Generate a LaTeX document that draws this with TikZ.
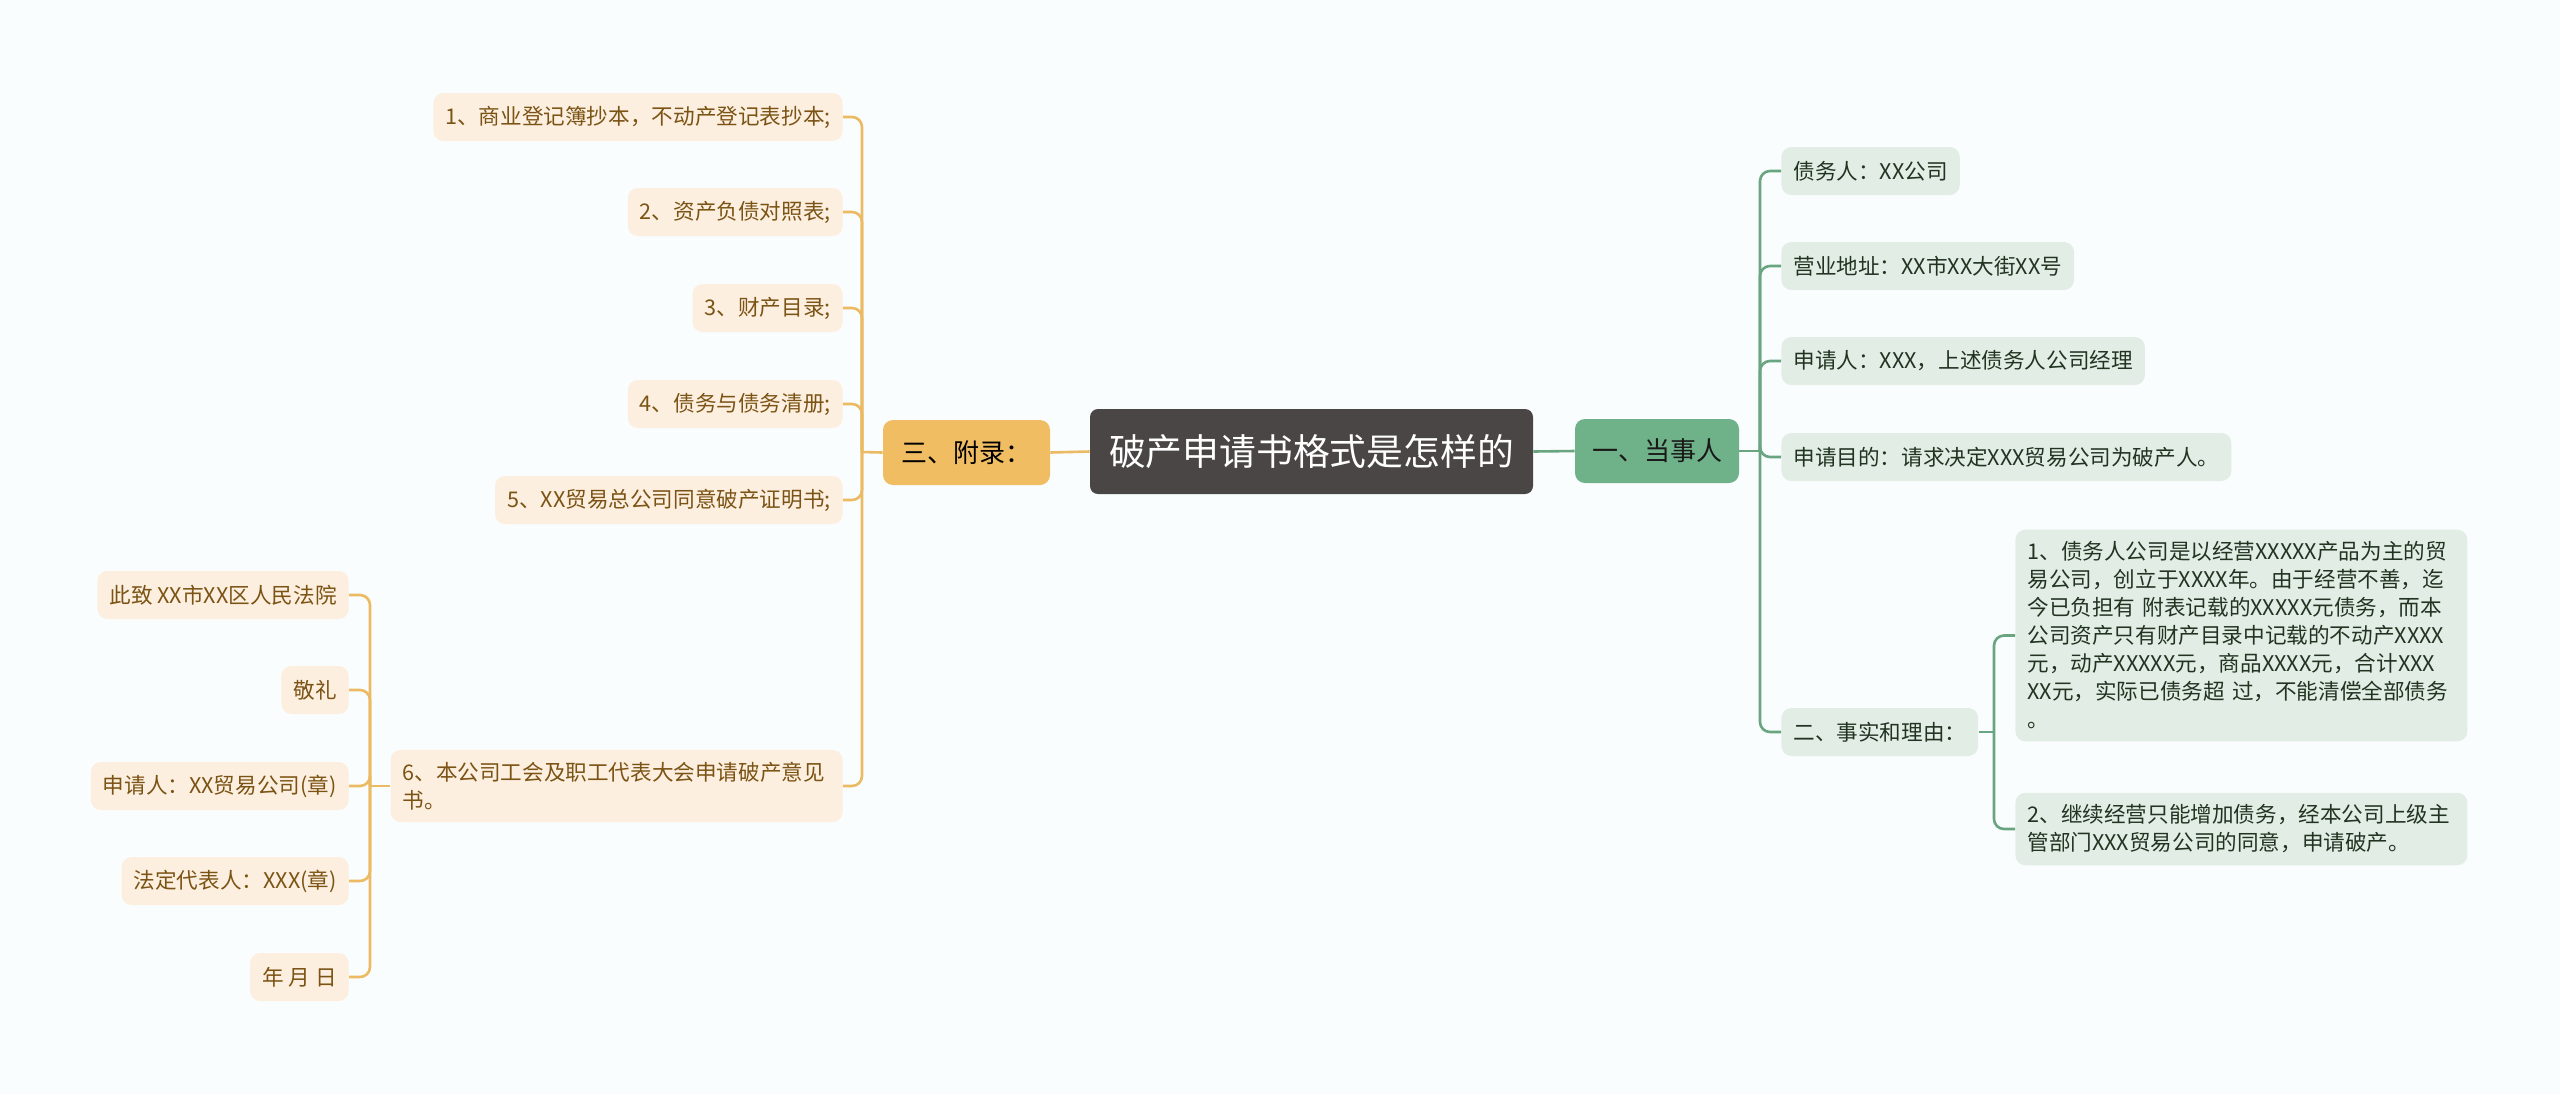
\documentclass[tikz,border=0pt]{standalone}
\usepackage{fontspec}
\setmainfont{Noto Sans CJK SC}
\usepackage{tikz}

\definecolor{bgcol}{HTML}{FAFDFD}
\definecolor{rootcol}{HTML}{4A4646}
\definecolor{orgline}{HTML}{EBBA63}
\definecolor{orgnode}{HTML}{F0BD62}
\definecolor{orgleaf}{HTML}{FCEFDF}
\definecolor{orgtext}{HTML}{7B5314}
\definecolor{grnline}{HTML}{6AA582}
\definecolor{grnnode}{HTML}{6FB189}
\definecolor{grnleaf}{HTML}{E2EEE5}
\definecolor{grntext}{HTML}{223322}

\begin{document}
\begin{tikzpicture}[x=0.5pt, y=-0.5pt,
    box/.style={rounded corners=5pt, inner xsep=6pt, minimum height=24pt, font=\fontsize{10.8}{14}\selectfont},
    rootbox/.style={fill=rootcol, text=white, rounded corners=4pt, minimum width=221.5pt, minimum height=42.5pt, font=\fontsize{18.4}{22}\selectfont},
    orgbox/.style={box, fill=orgnode, text=black, minimum width=83.5pt, minimum height=32.5pt, font=\fontsize{13}{16}\selectfont},
    grnbox/.style={box, fill=grnnode, text=black!90, minimum width=82pt, minimum height=32pt, font=\fontsize{13}{16}\selectfont},
    oleaf/.style={box, fill=orgleaf, text=orgtext, anchor=east},
    gleaf/.style={box, fill=grnleaf, text=grntext, anchor=west},
    wide/.style={text width=214pt, align=left, inner ysep=6pt},
    oline/.style={draw=orgline, line width=1.3pt, rounded corners=5pt},
    gline/.style={draw=grnline, line width=1.3pt, rounded corners=5pt}]

  \fill[bgcol] (0,0) rectangle (2560,1094);
  \useasboundingbox (0,0) rectangle (2560,1094);

  % centre and main branches
  \node[rootbox] (root) at (1311.5,451.5) {破产申请书格式是怎样的};
  \node[orgbox] (san) at (966.5,452.5) {三、附录：};
  \node[grnbox] (yi) at (1657,451) {一、当事人};

  % right side: one
  \node[gleaf] (g1) at (1781,171) {债务人：XX公司};
  \node[gleaf] (g2) at (1781,266) {营业地址：XX市XX大街XX号};
  \node[gleaf] (g3) at (1781,361) {申请人：XXX，上述债务人公司经理};
  \node[gleaf] (g4) at (1781,457) {申请目的：请求决定XXX贸易公司为破产人。};
  \node[gleaf] (g5) at (1781,732) {二、事实和理由：};
  \node[gleaf, wide] (g51) at (2015,635.5) {1、债务人公司是以经营XXXXX产品为主的贸\\易公司，创立于XXXX年。由于经营不善，迄\\今已负担有~附表记载的XXXXX元债务，而本\\公司资产只有财产目录中记载的不动产XXXX\\元，动产XXXXX元，商品XXXX元，合计XXX\\XX元，实际已债务超~过，不能清偿全部债务\\。};
  \node[gleaf, wide] (g52) at (2015,829) {2、继续经营只能增加债务，经本公司上级主\\管部门XXX贸易公司的同意，申请破产。};

  % left side: three
  \node[oleaf] (o1) at (843,117) {1、商业登记簿抄本，不动产登记表抄本;};
  \node[oleaf] (o2) at (843,212) {2、资产负债对照表;};
  \node[oleaf] (o3) at (843,308) {3、财产目录;};
  \node[oleaf] (o4) at (843,404) {4、债务与债务清册;};
  \node[oleaf] (o5) at (843,500) {5、XX贸易总公司同意破产证明书;};
  \node[oleaf, wide] (o6) at (843,786) {6、本公司工会及职工代表大会申请破产意见\\书。};

  \node[oleaf] (p1) at (349,595) {此致 XX市XX区人民法院};
  \node[oleaf] (p2) at (349,690) {敬礼};
  \node[oleaf] (p3) at (349,786) {申请人：XX贸易公司(章)};
  \node[oleaf] (p4) at (349,881) {法定代表人：XXX(章)};
  \node[oleaf] (p5) at (349,977) {年 月 日};

  % junctions
  \coordinate (jyi) at (1760,451);
  \coordinate (jg5) at (1994,732);
  \coordinate (jsan) at (862,452);
  \coordinate (jo6) at (370,786);

  % connectors
  \draw[oline] (root.west) -- (san.east);
  \draw[gline] (root.east) -- (yi.west);

  \draw[gline] (yi.east) -- (jyi);
  \foreach \n in {g1,g2,g3,g4,g5}
    \draw[gline] (jyi) |- (\n.west);
  \draw[gline] (g5.east) -- (jg5);
  \foreach \n in {g51,g52}
    \draw[gline] (jg5) |- (\n.west);

  \draw[oline] (san.west) -- (jsan);
  \foreach \n in {o1,o2,o3,o4,o5,o6}
    \draw[oline] (jsan) |- (\n.east);
  \draw[oline] (o6.west) -- (jo6);
  \foreach \n in {p1,p2,p3,p4,p5}
    \draw[oline] (jo6) |- (\n.east);
\end{tikzpicture}
\end{document}
